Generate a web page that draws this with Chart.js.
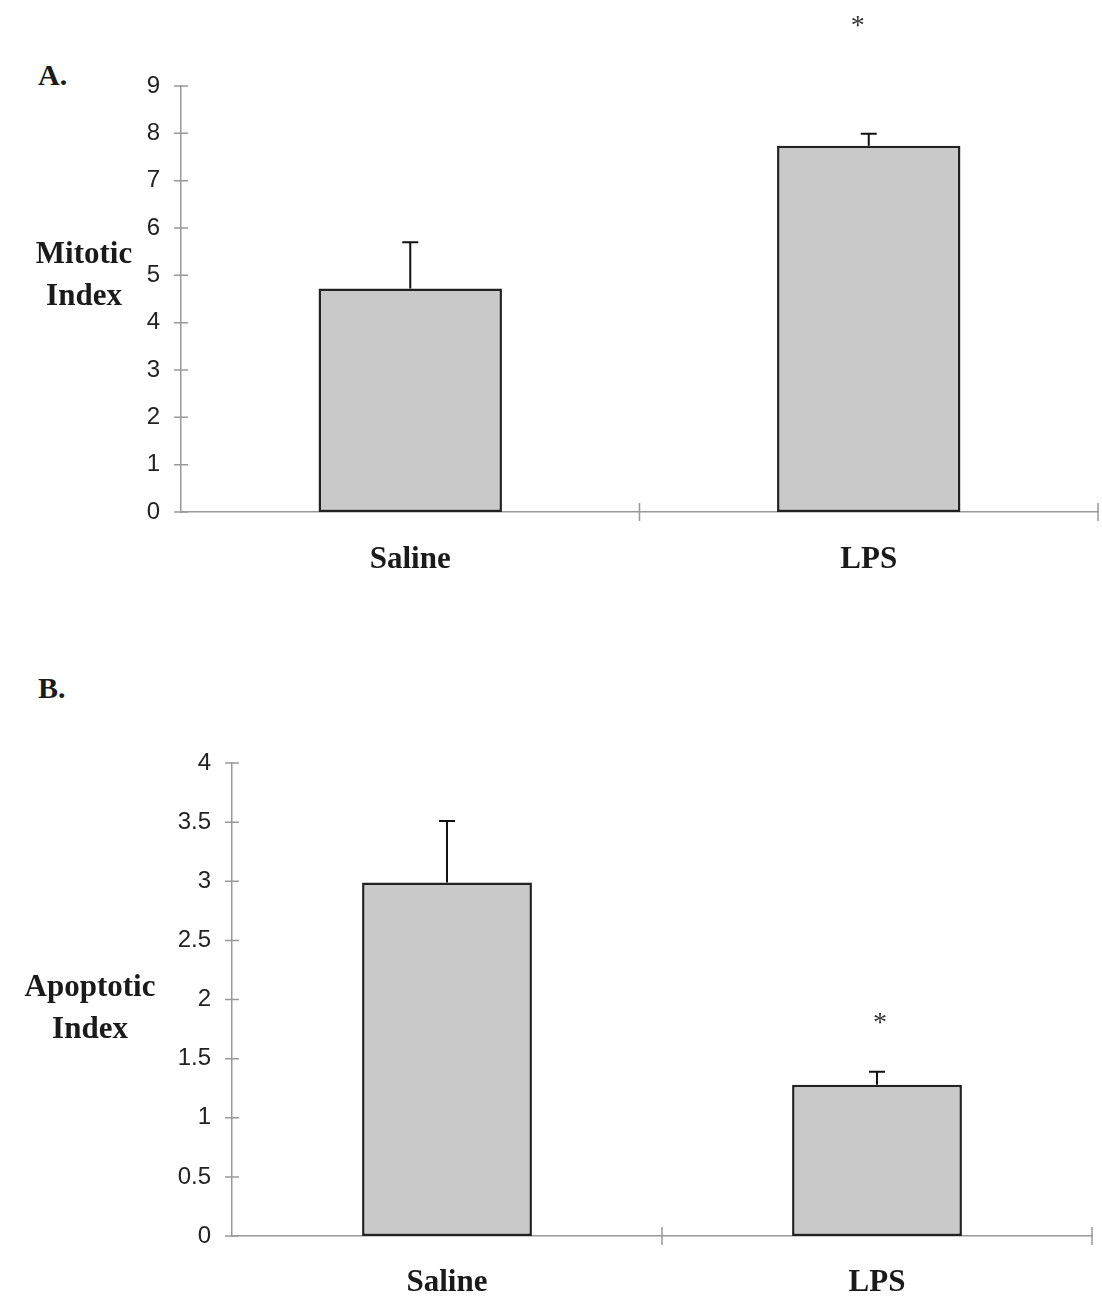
<!DOCTYPE html>
<html>
<head>
<meta charset="utf-8">
<title>Mitotic and Apoptotic Index</title>
<script src="https://cdn.jsdelivr.net/npm/chart.js@4.4.0/dist/chart.umd.min.js"></script>
<style>
  body { margin: 0; background: #fff; }
  #page { position: relative; width: 1102px; height: 1299px; }
  .panel-letter {
    position: absolute;
    left: 38px;
    font: bold 30px "Liberation Serif", "Times New Roman", serif;
    color: #1a1a1a;
  }
  .chart-box { position: absolute; left: 0; width: 1102px; }
</style>
</head>
<body>
<div id="page">
  <div class="panel-letter" style="top:58px">A.</div>
  <div class="chart-box" style="top:0;height:600px"><canvas id="graficaMitotic"></canvas></div>
  <div class="panel-letter" style="top:671px">B.</div>
  <div class="chart-box" style="top:600px;height:699px"><canvas id="graficaApoptotic"></canvas></div>
</div>

<script>
// groups
const grupos = ['Saline', 'LPS'];

// A. mitotic index (mean + error)
const mitoticMedia = [4.72, 7.74];
const mitoticError = [0.98, 0.25];
const mitoticAsterisco = [null, 10.35];
const mitoticTicks = [0, 1, 2, 3, 4, 5, 6, 7, 8, 9];

// B. apoptotic index (mean + error)
const apoptoticMedia = [2.99, 1.28];
const apoptoticError = [0.52, 0.11];
const apoptoticAsterisco = [null, 1.84];
const apoptoticTicks = [0, 0.5, 1, 1.5, 2, 2.5, 3, 3.5, 4];

const colorTexto = '#1a1a1a';
const colorEje = '#999999';

function crearGrafica(canvasId, cfg) {
  // error bars, tick marks, asterisks and the horizontal y title
  const extras = {
    id: 'extras',
    afterDatasetsDraw(chart) {
      const { ctx } = chart;
      const y = chart.scales.y;
      const meta = chart.getDatasetMeta(0);
      ctx.save();
      ctx.strokeStyle = '#111';
      ctx.lineWidth = 2;
      cfg.errores.forEach((err, i) => {
        const bx = meta.data[i].x;
        const base = y.getPixelForValue(cfg.medias[i]);
        const tope = y.getPixelForValue(cfg.medias[i] + err);
        ctx.beginPath();
        ctx.moveTo(bx, base);
        ctx.lineTo(bx, tope);
        ctx.moveTo(bx - 8, tope);
        ctx.lineTo(bx + 8, tope);
        ctx.stroke();
      });
      ctx.restore();
    },
    afterDraw(chart) {
      const { ctx, chartArea } = chart;
      const x = chart.scales.x;
      const y = chart.scales.y;
      ctx.save();

      // tick marks crossing the axes
      ctx.strokeStyle = colorEje;
      ctx.lineWidth = 1.5;
      ctx.beginPath();
      y.ticks.forEach((t, i) => {
        const py = y.getPixelForTick(i);
        ctx.moveTo(chartArea.left - 7, py);
        ctx.lineTo(chartArea.left + 7, py);
      });
      const paso = (chartArea.right - chartArea.left) / grupos.length;
      for (let i = 1; i <= grupos.length; i++) {
        const px = chartArea.left + paso * i;
        ctx.moveTo(px, chartArea.bottom - 9);
        ctx.lineTo(px, chartArea.bottom + 9);
      }
      ctx.stroke();

      // significance asterisks
      ctx.fillStyle = '#333';
      ctx.font = '28px "Liberation Serif", "Times New Roman", serif';
      ctx.textAlign = 'center';
      ctx.textBaseline = 'middle';
      cfg.asteriscos.forEach((v, i) => {
        if (v === null) return;
        ctx.fillText('*', x.getPixelForValue(i) + cfg.desvioAst, y.getPixelForValue(v) + 5);
      });

      // y axis title, written horizontally on two lines
      ctx.fillStyle = colorTexto;
      ctx.font = 'bold 31px "Liberation Serif", "Times New Roman", serif';
      cfg.titulo.forEach((linea, i) => {
        ctx.fillText(linea, cfg.tituloX, cfg.tituloY + i * 42);
      });
      ctx.restore();
    }
  };

  const ctx = document.getElementById(canvasId).getContext('2d');
  return new Chart(ctx, {
    type: 'bar',
    data: {
      labels: grupos,
      datasets: [{
        data: cfg.medias,
        backgroundColor: '#c9c9c9',
        borderColor: '#222',
        borderWidth: 2.5,
        borderSkipped: false,
        categoryPercentage: 1,
        barPercentage: cfg.anchoBarra
      }]
    },
    options: {
      responsive: true,
      maintainAspectRatio: false,
      animation: false,
      layout: { padding: cfg.padding },
      plugins: {
        legend: { display: false },
        tooltip: { enabled: false }
      },
      scales: {
        x: {
          grid: { display: false, drawTicks: false },
          border: { display: true, color: colorEje, width: 1.5 },
          ticks: {
            color: colorTexto,
            padding: cfg.padX,
            font: { family: '"Liberation Serif", "Times New Roman", serif', size: 31, weight: 'bold' }
          },
          afterFit: (s) => { s.height = cfg.altoX; }
        },
        y: {
          min: cfg.ticks[0],
          max: cfg.ticks[cfg.ticks.length - 1],
          grid: { display: false, drawTicks: false },
          border: { display: true, color: colorEje, width: 1.5 },
          ticks: {
            stepSize: cfg.ticks[1] - cfg.ticks[0],
            color: '#222',
            padding: 21,
            font: { family: '"Liberation Sans", Arial, sans-serif', size: 24 },
            callback: (v) => String(v)
          },
          afterFit: (s) => { s.width = cfg.anchoY; }
        }
      }
    },
    plugins: [extras]
  });
}

crearGrafica('graficaMitotic', {
  medias: mitoticMedia,
  errores: mitoticError,
  asteriscos: mitoticAsterisco,
  ticks: mitoticTicks,
  titulo: ['Mitotic', 'Index'],
  tituloX: 84,
  tituloY: 255,
  padding: { top: 86, right: 4, left: 0, bottom: 0 },
  anchoY: 181,
  altoX: 88,
  padX: 29,
  anchoBarra: 0.4,
  desvioAst: -11
});

crearGrafica('graficaApoptotic', {
  medias: apoptoticMedia,
  errores: apoptoticError,
  asteriscos: apoptoticAsterisco,
  ticks: apoptoticTicks,
  titulo: ['Apoptotic', 'Index'],
  tituloX: 90,
  tituloY: 388,
  padding: { top: 163, right: 10, left: 0, bottom: 0 },
  anchoY: 232,
  altoX: 63,
  padX: 28,
  anchoBarra: 0.395,
  desvioAst: 3
});
</script>
</body>
</html>
